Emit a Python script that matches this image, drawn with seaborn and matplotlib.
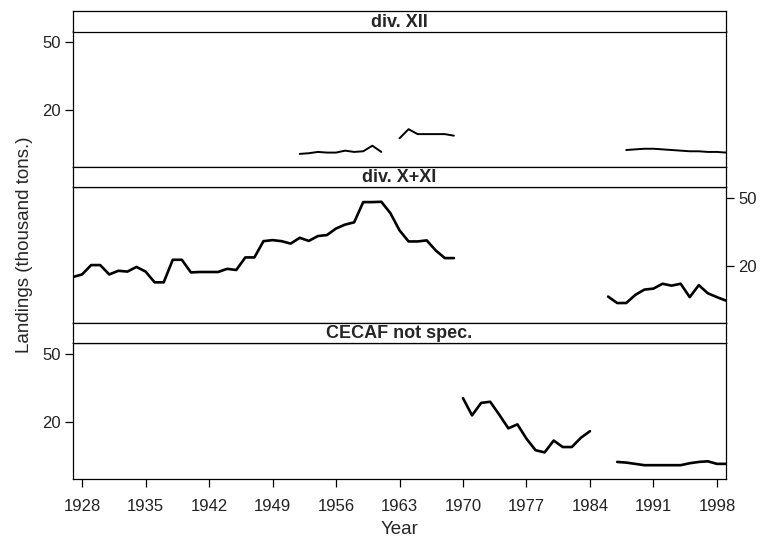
import numpy as np
import pandas as pd
import matplotlib
matplotlib.use("Agg")
import matplotlib.pyplot as plt
import matplotlib.ticker as mticker
import seaborn as sns

# ---------------- data (thousand tons) ----------------
panels = ["div. XII", "div. X+XI", "CECAF not spec."]

# div. XII
xii_years_a = list(range(1952, 1962))
xii_vals_a = [11.1, 11.2, 11.4, 11.3, 11.3, 11.6, 11.4, 11.5, 12.4, 11.4]
xii_years_b = list(range(1963, 1970))
xii_vals_b = [13.7, 15.5, 14.5, 14.5, 14.5, 14.5, 14.2]
xii_years_c = list(range(1988, 2000))
xii_vals_c = [11.7, 11.8, 11.9, 11.9, 11.8, 11.7, 11.6, 11.5, 11.5, 11.4, 11.4, 11.3]

# div. X+XI
xxi_years_a = list(range(1927, 1970))
xxi_vals_a = [17.2, 17.8, 20.2, 20.2, 17.8, 18.7, 18.5, 19.7, 18.5, 16.0,
              16.0, 21.7, 21.7, 18.3, 18.4, 18.4, 18.4, 19.2, 18.9, 22.4,
              22.4, 27.9, 28.3, 27.9, 27.0, 29.2, 28.0, 29.9, 30.3, 33.1,
              34.9, 36.0, 47.3, 47.3, 47.5, 40.7, 32.3, 27.8, 27.8, 28.2,
              24.6, 22.2, 22.2]
xxi_years_b = list(range(1986, 2000))
xxi_vals_b = [13.2, 12.1, 12.1, 13.5, 14.5, 14.7, 15.7, 15.3, 15.7, 13.1,
              15.4, 13.8, 13.1, 12.5]

# CECAF not spec.
cec_years_a = list(range(1970, 1985))
cec_vals_a = [27.6, 21.9, 25.9, 26.3, 22.1, 18.4, 19.4, 16.0, 13.7, 13.3,
              15.6, 14.3, 14.3, 16.2, 17.7]
cec_years_b = list(range(1987, 2000))
cec_vals_b = [11.7, 11.6, 11.4, 11.2, 11.2, 11.2, 11.2, 11.2, 11.5, 11.7,
              11.8, 11.4, 11.4]

x_ticks = [1928, 1935, 1942, 1949, 1956, 1963, 1970, 1977, 1984, 1991, 1998]
y_ticks = [20, 50]

series = {
    "div. XII": [(xii_years_a, xii_vals_a), (xii_years_b, xii_vals_b), (xii_years_c, xii_vals_c)],
    "div. X+XI": [(xxi_years_a, xxi_vals_a), (xxi_years_b, xxi_vals_b)],
    "CECAF not spec.": [(cec_years_a, cec_vals_a), (cec_years_b, cec_vals_b)],
}

def frame(name):
    rows = []
    for k, (ys, vs) in enumerate(series[name]):
        for y, v in zip(ys, vs):
            rows.append({"Year": y, "Landings": v, "seg": k})
    return pd.DataFrame(rows)

# ---------------- style ----------------
sns.set_style("white")
plt.rcParams["font.family"] = ["Liberation Sans", "DejaVu Sans"]

W, H = 762, 542
fig = plt.figure(figsize=(W / 100, H / 100), dpi=100)

L, R = 73, 726
# (strip_top, strip_bottom/panel_top, panel_bottom) in pixels
geom = [(11, 31.5, 167), (167, 187, 322.5), (322.5, 343, 479)]

def fr(y0, y1):
    return [L / W, 1 - y1 / H, (R - L) / W, (y1 - y0) / H]

for i, name in enumerate(panels):
    st, pt, pb = geom[i]
    ax = fig.add_axes(fr(pt, pb))
    df = frame(name)
    sns.lineplot(data=df, x="Year", y="Landings", units="seg", estimator=None,
                 color="black", lw=1.4 if i == 0 else 1.9, legend=False, ax=ax,
                 sort=True)
    ax.set_yscale("log")
    ax.set_xlim(1927, 1999)
    ax.set_ylim(9.3, 58)
    ax.yaxis.set_major_locator(mticker.FixedLocator(y_ticks))
    ax.yaxis.set_major_formatter(mticker.FixedFormatter([str(t) for t in y_ticks]))
    ax.yaxis.set_minor_locator(mticker.NullLocator())
    ax.set_xticks(x_ticks)
    ax.set_xlabel("")
    ax.set_ylabel("")
    for sp in ax.spines.values():
        sp.set_visible(True)
        sp.set_color("black")
        sp.set_linewidth(0.9)
    ax.tick_params(axis="both", which="major", length=6, width=0.9,
                   color="black", labelsize=12, labelcolor="#222222",
                   direction="out")
    if i == 1:
        ax.tick_params(axis="y", left=False, labelleft=False, right=True, labelright=True, pad=3)
    else:
        ax.tick_params(axis="y", left=True, labelleft=True, right=False, labelright=False, pad=3)
    if i == 2:
        ax.tick_params(axis="x", bottom=True, labelbottom=True, pad=8.5)
    else:
        ax.tick_params(axis="x", bottom=False, labelbottom=False)

    # strip
    sax = fig.add_axes(fr(st, pt))
    sax.set_xticks([])
    sax.set_yticks([])
    for sp in sax.spines.values():
        sp.set_visible(True)
        sp.set_color("black")
        sp.set_linewidth(0.9)
    sax.set_facecolor("white")
    sax.text(0.5, 0.45, name, ha="center", va="center", fontsize=13,
             fontweight="bold", transform=sax.transAxes)

fig.text(0.5 * (L + R) / W, 1 - 530 / H, "Year", ha="center", va="center", fontsize=13.5)
fig.text(25 / W, 1 - 245 / H, "Landings (thousand tons.)", ha="center", va="center",
         rotation=90, fontsize=13.5)

fig.savefig("out.png", dpi=100)
